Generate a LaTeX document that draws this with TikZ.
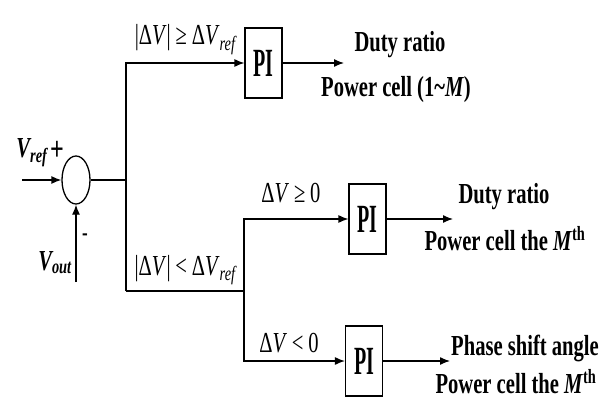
\documentclass[tikz,border=0pt]{standalone}
\usepackage{fontspec}
\setmainfont{Liberation Serif}[FakeStretch=0.71]
\newfontfamily\pifont{Liberation Serif}[FakeStretch=0.5]
\usetikzlibrary{arrows.meta,positioning,shapes.geometric}
\newcommand{\dV}{Δ\textit{V}}
\newcommand{\Vref}{Δ\textit{V}\textsubscript{\textit{ref}}}

\begin{document}
\begin{tikzpicture}[x=1pt,y=-1pt,line width=1.3pt,
    >={Latex[length=10pt,width=8pt]},
    pibox/.style={draw,line width=1.1pt,minimum width=37pt,minimum height=70pt,
      inner sep=0pt,font=\pifont\fontsize{40}{40}\selectfont\bfseries},
    txt/.style={inner sep=0pt,anchor=base,font=\fontsize{29}{29}\selectfont\bfseries},
    lbl/.style={inner sep=0pt,anchor=base,font=\fontsize{29}{29}\selectfont}]
        \useasboundingbox (0,0) rectangle (607,401);
        \coordinate (in) at (22,180);
        \coordinate (fb) at (76,282);
        \coordinate (j0) at (126,180);
        \coordinate (jtop) at (126,63);
        \coordinate (jlow) at (126,291);
        \coordinate (k0) at (244,291);
        \coordinate (ktop) at (244,219);
        \coordinate (kbot) at (244,361);
        \coordinate (o1) at (344,63);
        \coordinate (o2) at (453,219);
        \coordinate (o3) at (450,361);
        %Summing point
        \node[ellipse,draw,minimum width=28pt,minimum height=48pt,inner sep=0pt] (sum) at (76,180) {};
        \node[font=\fontsize{29}{29}\selectfont\bfseries\itshape,inner sep=0pt,anchor=base] (vref) at (32,157) {V\textsubscript{ref}};
        \node[font=\fontsize{34}{34}\selectfont\bfseries,inner sep=0pt] (plus) at (57,151) {+};
        \node[font=\fontsize{29}{29}\selectfont\bfseries\itshape,inner sep=0pt,anchor=base] (vout) at (55,270) {V\textsubscript{out}};
        \node[font=\fontsize{24}{24}\selectfont\bfseries,inner sep=0pt] (minus) at (85,237) {-};
        %Controllers
        \node[pibox] (pi1) at (263.5,63) {PI};
        \node[pibox] (pi2) at (367.5,219) {PI};
        \node[pibox] (pi3) at (364,361) {PI};
        %Outputs
        \node[txt] (d1) at (400,52) {Duty ratio};
        \node[txt] (c1) at (396,97) {Power cell (1\textasciitilde\textit{M})};
        \node[txt] (d2) at (504,203) {Duty ratio};
        \node[txt] (c2) at (505,250) {Power cell the \textit{M}\textsuperscript{th}};
        \node[txt] (p3) at (525,355) {Phase shift angle};
        \node[txt] (c3) at (516,393) {Power cell the \textit{M}\textsuperscript{th}};
        %Conditions
        \node[lbl] (l1) at (186,45) {|\dV|\,≥\,\Vref};
        \node[lbl] (l2) at (186,275) {|\dV|\,<\,\Vref};
        \node[lbl] (l3) at (291,202) {\dV\,≥\,0};
        \node[lbl] (l4) at (289,352) {\dV\,<\,0};
        %Connectors
        \draw[->] (in) -- (sum.west);
        \draw[->] (fb) -- (sum.south);
        \draw (sum.east) -- (j0);
        \draw[->] (jlow) -- (jtop) -- (pi1.west);
        \draw[->] (pi1.east) -- (o1);
        \draw[->] (jlow) -- (k0) -- (ktop) -- (pi2.west);
        \draw[->] (pi2.east) -- (o2);
        \draw[->] (k0) -- (kbot) -- (pi3.west);
        \draw[->] (pi3.east) -- (o3);
      \end{tikzpicture}
\end{document}
